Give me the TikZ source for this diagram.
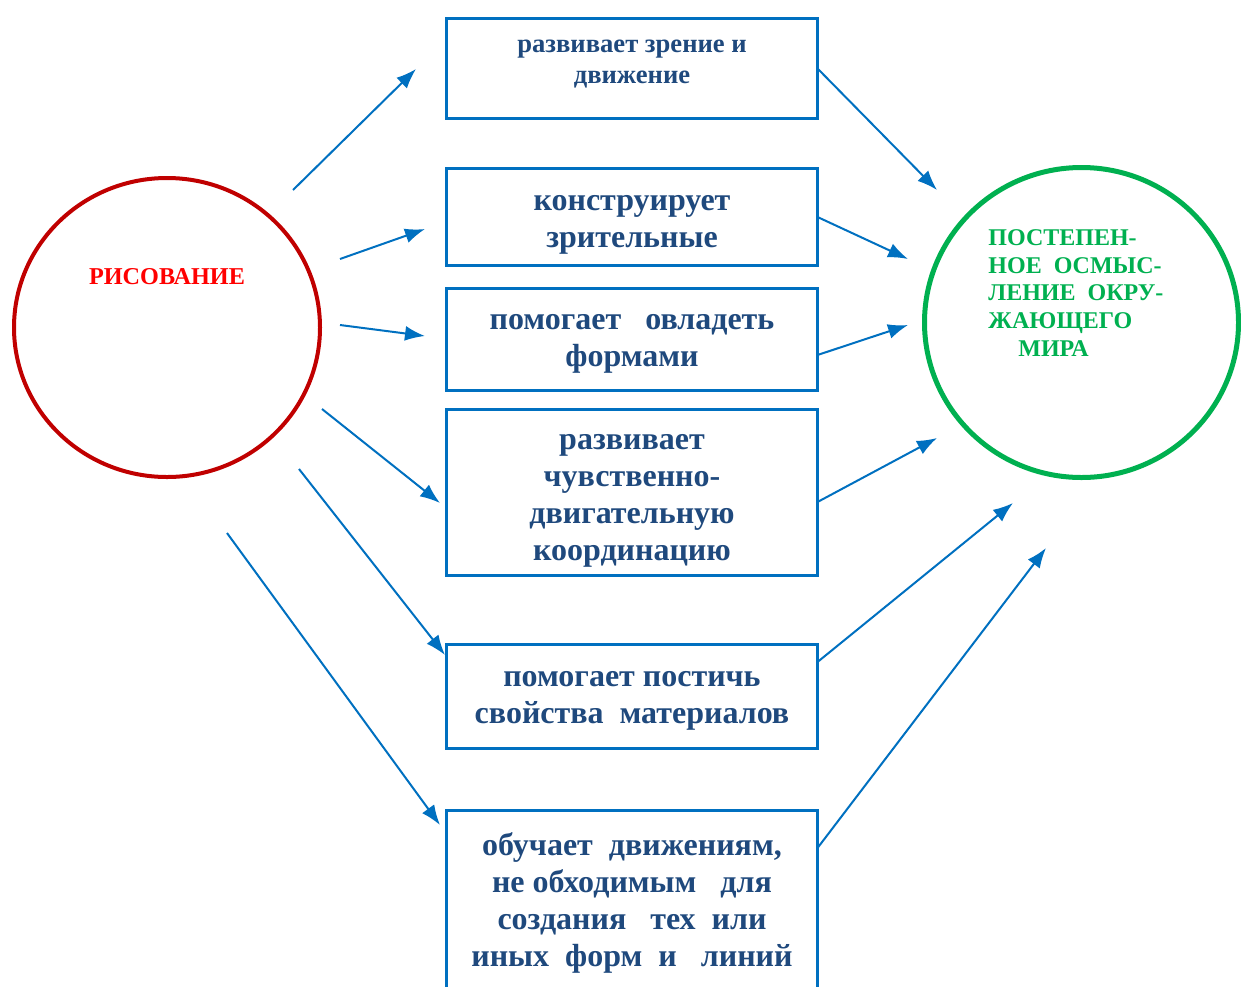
\documentclass[tikz,border=0pt]{standalone}
\usepackage{fontspec}
\setmainfont{Liberation Serif}
\usetikzlibrary{positioning,calc,shapes.geometric,arrows.meta}
\definecolor{boxblue}{RGB}{0,112,192}
\definecolor{txtblue}{RGB}{31,73,125}
\definecolor{risred}{RGB}{192,0,0}
\definecolor{ristxt}{RGB}{255,0,0}
\definecolor{mirgreen}{RGB}{0,176,80}
\def\fs#1#2{\bfseries\fontsize{#1pt}{#2pt}\selectfont}
\def\lines#1#2{\raisebox{#1}[0pt][0pt]{\begin{tabular}{@{}c@{}}#2\end{tabular}}}

\begin{document}
\begin{tikzpicture}[x=0.5pt,y=-0.5pt,>={Latex[length=10pt,width=7.5pt]},
	box/.style={draw=boxblue,line width=1.5pt,minimum width=185.5pt,outer sep=0pt,inner sep=0pt,text=txtblue,font=\fs{16}{18.5}},
	arr/.style={->,draw=boxblue,line width=1pt}]
	\useasboundingbox (0,0) rectangle (1241,986);
	\node [box,minimum height=50pt,font=\fs{13.3}{15.5}] at (632,68.5) (zr) {\lines{0pt}{развивает зрение и\\движение}};
	\node [box,minimum height=48.5pt] at (632,217) (kon) {\lines{-6.5pt}{конструирует\\зрительные}};
	\node [box,minimum height=51pt] at (632,339.5) (form) {\lines{-4.75pt}{помогает~~~овладеть\\формами}};
	\node [box,minimum height=83pt] at (632,492.5) (koord) {\lines{-7pt}{развивает\\чувственно-\\двигательную\\координацию}};
	\node [box,minimum height=52pt] at (632,696.5) (mat) {\lines{-4.75pt}{помогает постичь\\свойства~~материалов}};
	\node [box,minimum height=90pt] at (632,900) (lin) {\lines{-6pt}{обучает~~движениям,\\не обходимым~~~для\\создания~~~тех~~или\\иных~~форм~~и~~~линий}};
	\node [ellipse,draw=risred,line width=2pt,minimum width=153pt,minimum height=149.5pt,inner sep=0pt] at (167,327.5) (ris) {};
	\node [text=ristxt,font=\fs{12.1}{14}] at (167,276.5) (ristext) {РИСОВАНИЕ};
	\node [ellipse,draw=mirgreen,line width=2.5pt,minimum width=157pt,minimum height=155pt,inner sep=0pt] at (1081.5,322.5) (mir) {};
	\node [text=mirgreen,align=left,anchor=north west,inner sep=0pt,font=\fs{12}{13.9}] at (988,229) (mirtext) {ПОСТЕПЕН-\\НОЕ~~ОСМЫС-\\ЛЕНИЕ~~ОКРУ-\\ЖАЮЩЕГО\\\hspace{15pt}МИРА};
	\coordinate (s1) at (293,190);
	\coordinate (t1) at (416,69);
	\coordinate (s2) at (340,259);
	\coordinate (t2) at (425,229);
	\coordinate (s3) at (340,325);
	\coordinate (t3) at (425,336);
	\coordinate (s4) at (322,409);
	\coordinate (t4) at (440,503);
	\coordinate (s5) at (299,469);
	\coordinate (t5) at (445,655);
	\coordinate (s6) at (227,533);
	\coordinate (t6) at (440,825);
	\coordinate (u1) at (937,190);
	\coordinate (u2) at (908,259);
	\coordinate (u3) at (908,325);
	\coordinate (u4) at (937,438);
	\coordinate (u5) at (1013,503);
	\coordinate (u6) at (1046,548);
	\foreach \i in {1,...,6}
		\draw [arr] (s\i) -- (t\i);
	\draw [arr] (zr.east) -- (u1);
	\draw [arr] (kon.east) -- (u2);
	\draw [arr] ([yshift=-7.75pt]form.east) -- (u3);
	\draw [arr] ([yshift=-4.75pt]koord.east) -- (u4);
	\draw [arr] ([yshift=17.25pt]mat.east) -- (u5);
	\draw [arr] ([yshift=26pt]lin.east) -- (u6);
\end{tikzpicture}
\end{document}
